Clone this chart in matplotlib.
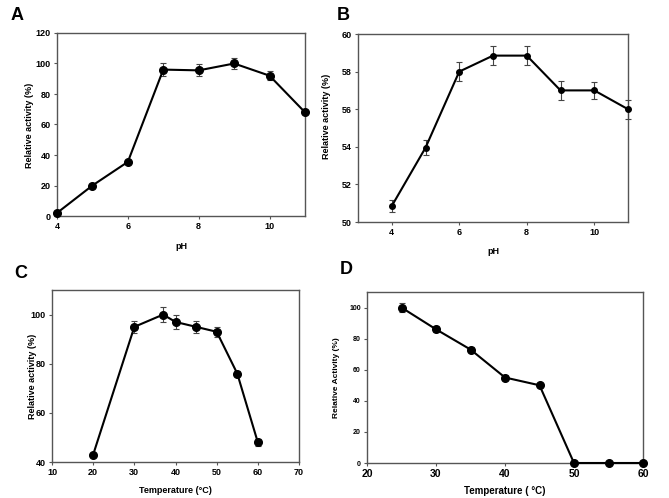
import matplotlib
matplotlib.use("Agg")
import matplotlib.pyplot as plt

plt.rcParams['font.family'] = ['Liberation Sans', 'DejaVu Sans']
plt.rcParams['font.weight'] = 'bold'

# Panel A: pH activity
ph_a = [4, 5, 6, 7, 8, 9, 10, 11]
act_a = [2, 20, 35.5, 96, 95.5, 100, 92, 68]
err_a = [1, 1, 1, 4, 4, 3.5, 3, 1]

# Panel B: pH stability
ph_b = [4, 5, 6, 7, 8, 9, 10, 11]
act_b = [50.85, 53.95, 58.0, 58.85, 58.85, 57.0, 57.0, 56.0]
err_b = [0.3, 0.4, 0.5, 0.5, 0.5, 0.5, 0.45, 0.5]

# Panel C: temperature activity
temp_c = [20, 30, 37, 40, 45, 50, 55, 60]
act_c = [43, 95, 100, 97, 95, 93, 76, 48]
err_c = [0.5, 2.5, 3, 3, 2.5, 2, 1, 1.5]

# Panel D: temperature stability
temp_d = [25, 30, 35, 40, 45, 50, 55, 60]
act_d = [100, 86, 73, 55, 50, 0, 0, 0]
err_d = [3, 2, 1.5, 1.5, 1, 0, 0, 0]

fig = plt.figure(figsize=(6.69, 4.98), dpi=100)
W, H = 669, 498

def add_axes(l, t, r, b):
    return fig.add_axes([l / W, 1 - b / H, (r - l) / W, (b - t) / H])

axA = add_axes(57, 33, 305, 216)
axB = add_axes(358, 34, 628, 222)
axC = add_axes(52, 290, 299, 462)
axD = add_axes(367, 292, 643, 463)

def style(ax, fs_x=6.5, fs_y=6.5):
    for s in ax.spines.values():
        s.set_color('#555555')
        s.set_linewidth(1.0)
    ax.tick_params(direction='out', length=2.5, width=0.8, colors='#555555',
                   pad=2)
    for lab in ax.get_xticklabels():
        lab.set_fontsize(fs_x); lab.set_color('black'); lab.set_fontweight('bold')
    for lab in ax.get_yticklabels():
        lab.set_fontsize(fs_y); lab.set_color('black'); lab.set_fontweight('bold')

def plot(ax, x, y, e, ms):
    ax.errorbar(x, y, yerr=e, color='black', lw=1.5, marker='o', ms=ms,
                ecolor='#444444', elinewidth=0.8, capsize=2.5, capthick=0.8,
                clip_on=False, zorder=3)

# A
plot(axA, ph_a, act_a, err_a, 5.5)
axA.set_xlim(4, 11); axA.set_ylim(0, 120)
axA.set_xticks([4, 6, 8, 10]); axA.set_yticks(range(0, 121, 20))
style(axA)
axA.set_xlabel('pH', fontsize=6.5, fontweight='bold')
axA.set_ylabel('Relative activity (%)', fontsize=6.5, fontweight='bold')
axA.xaxis.set_label_coords(0.5, -0.142)
axA.yaxis.set_label_coords(-0.093, 0.497)

# B
plot(axB, ph_b, act_b, err_b, 4)
axB.set_xlim(3, 11); axB.set_ylim(50, 60)
axB.set_xticks([4, 6, 8, 10]); axB.set_yticks(range(50, 61, 2))
style(axB)
axB.set_xlabel('pH', fontsize=6.5, fontweight='bold')
axB.set_ylabel('Relative activity (%)', fontsize=6.5, fontweight='bold')
axB.xaxis.set_label_coords(0.5, -0.133)
axB.yaxis.set_label_coords(-0.100, 0.56)

# C
plot(axC, temp_c, act_c, err_c, 5.5)
axC.set_xlim(10, 70); axC.set_ylim(40, 110)
axC.set_xticks(range(10, 71, 10)); axC.set_yticks(range(40, 101, 20))
style(axC)
axC.set_xlabel('Temperature (°C)', fontsize=6.5, fontweight='bold')
axC.set_ylabel('Relative activity (%)', fontsize=6.5, fontweight='bold')
axC.xaxis.set_label_coords(0.5, -0.14)
axC.yaxis.set_label_coords(-0.061, 0.5)

# D
plot(axD, temp_d, act_d, err_d, 5.5)
axD.set_xlim(20, 60); axD.set_ylim(0, 110)
axD.set_xticks(range(20, 61, 10)); axD.set_yticks(range(0, 101, 20))
style(axD, fs_x=7.5, fs_y=5)
axD.set_xlabel('Temperature ( °C)', fontsize=7, fontweight='bold')
axD.set_ylabel('Relative Activity (%)', fontsize=6, fontweight='bold')
axD.xaxis.set_label_coords(0.5, -0.134)
axD.yaxis.set_label_coords(-0.098, 0.5)

# Panel letters
for letter, (px, py) in zip('ABCD', [(11, 16), (337, 16), (14, 273), (340, 270)]):
    fig.text(px / W, 1 - py / H, letter, fontsize=13, fontweight='bold',
             ha='left', va='center')

fig.savefig('out.png', dpi=100)
